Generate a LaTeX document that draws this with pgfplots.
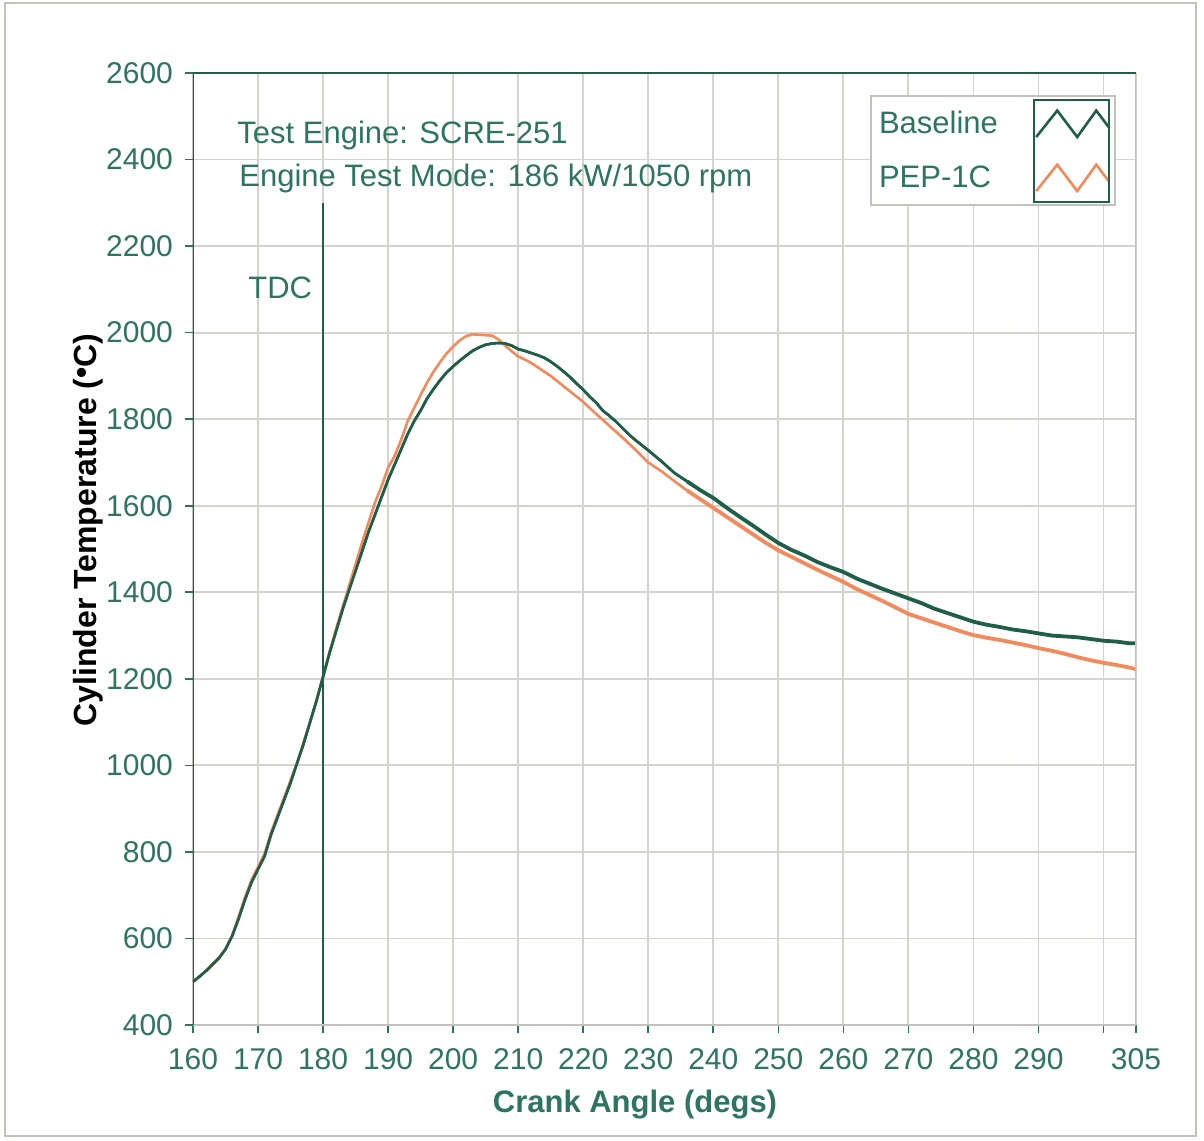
\documentclass[border=0pt]{standalone}
\usepackage{pgfplots}
\pgfplotsset{compat=1.18}
\usepackage{pgfplotstable}
\usepackage{fontspec}
\setmainfont{Liberation Sans}
\definecolor{txtgreen}{HTML}{2E7561}
\definecolor{basegreen}{HTML}{1F5E48}
\definecolor{peporange}{HTML}{F28A5C}
\definecolor{gridgray}{HTML}{D6D2CE}
\definecolor{framegray}{HTML}{C4C0BC}

\pgfplotstableread{
x T
160 500
161 512
162 525
163 540
164 555
165 575
166 605
167 645
168 690
169 730
170 760
171 790
172 840
173 880
174 920
175 960
176 1005
177 1050
178 1100
179 1150
180 1205
181 1260
182 1310
183 1360
184 1405
185 1450
186 1495
187 1540
188 1580
189 1620
190 1660
191 1695
192 1730
193 1765
194 1795
195 1820
196 1848
197 1870
198 1890
199 1908
200 1922
201 1935
202 1947
203 1958
204 1966
205 1972
206 1975
207 1976
208 1975
209 1970
210 1962
211 1958
212 1953
213 1948
214 1942
215 1933
216 1922
217 1910
218 1897
219 1882
220 1868
221 1852
222 1838
223 1820
224 1808
225 1795
226 1780
227 1765
228 1752
229 1740
230 1728
232 1703
234 1676
236 1656
238 1636
240 1618
242 1596
244 1575
246 1555
248 1534
250 1514
252 1498
254 1485
256 1470
258 1458
260 1447
262 1432
264 1420
266 1408
268 1397
270 1386
272 1375
274 1362
276 1352
278 1342
280 1332
282 1325
284 1320
286 1314
288 1310
290 1305
292 1300
294 1298
296 1296
298 1292
300 1288
302 1286
304 1282
305 1282
}\baseline

\pgfplotstableread{
x T
160 500
161 512
162 525
163 540
164 555
165 575
166 605
167 650
168 695
169 735
170 765
171 795
172 845
173 885
174 925
175 965
176 1005
177 1052
178 1100
179 1150
180 1205
181 1262
182 1315
183 1365
184 1415
185 1465
186 1515
187 1562
188 1608
189 1645
190 1688
191 1715
192 1752
193 1795
194 1826
195 1856
196 1885
197 1910
198 1932
199 1952
200 1968
201 1982
202 1992
203 1996
204 1995
205 1994
206 1993
207 1984
208 1970
209 1957
210 1945
211 1938
212 1930
213 1920
214 1910
215 1900
216 1888
217 1876
218 1864
219 1852
220 1840
222 1812
224 1785
226 1758
228 1730
230 1700
232 1680
234 1657
236 1635
238 1615
240 1595
242 1575
244 1555
246 1535
248 1515
250 1497
252 1482
254 1467
256 1452
258 1438
260 1424
262 1408
264 1394
266 1380
268 1365
270 1350
272 1340
274 1330
276 1320
278 1310
280 1301
282 1295
284 1290
286 1284
288 1278
290 1271
292 1265
294 1258
296 1250
298 1243
300 1237
302 1232
304 1226
305 1222
}\pep

\begin{document}
\begin{tikzpicture}
\useasboundingbox (-96.5pt,-57.5pt) rectangle (505.5pt,512.5pt);
\draw[framegray, line width=1pt] (-94pt,-55.5pt) rectangle (501.5pt,511pt);
\begin{axis}[
  at={(0pt,0pt)}, anchor=south west,
  scale only axis, width=471.5pt, height=476pt,
  xmin=160, xmax=305, ymin=400, ymax=2600,
  axis line style={draw=none},
  xtick pos=bottom, ytick pos=left,
  xtick={160,170,180,190,200,210,220,230,240,250,260,270,280,290,300,305},
  xticklabels={160,170,180,190,200,210,220,230,240,250,260,270,280,290,,305},
  ytick={400,600,800,1000,1200,1400,1600,1800,2000,2200,2400,2600},
  grid=major, grid style={gridgray, line width=0.9pt},
  tick align=outside, major tick length=4pt,
  tick style={txtgreen, line width=0.8pt},
  /pgf/number format/assume math mode=true,
  /pgf/number format/1000 sep={},
  ticklabel style={font=\fontsize{15}{18}\selectfont, text=txtgreen},
  xticklabel style={yshift=-4pt},
  yticklabel style={xshift=-2.5pt},
  xlabel={Crank Angle (degs)},
  xlabel style={at={(axis description cs:0.4687,-0.084)}, anchor=center,
    font=\bfseries\fontsize{15.5}{18}\selectfont, text=txtgreen},
  ylabel={Cylinder Temperature ({\raisebox{0.12em}{•}}C)},
  ylabel style={at={(axis description cs:-0.111,0.52)}, anchor=center,
    font=\bfseries\fontsize{16}{19}\selectfont, text=black},
  legend plot pos=right,
  legend cell align=left,
  legend style={at={(axis cs:264.1,2549)}, anchor=north west,
    draw=framegray, line width=1pt, fill=white,
    font=\fontsize{15.5}{18}\selectfont, text=txtgreen,
    inner xsep=2pt, inner ysep=5.5pt, row sep=10.5pt, /tikz/column sep=16.5pt},
  legend image code/.code={\draw[#1] (0pt,-6.6pt) -- (10.5pt,6.6pt) -- (20.5pt,-6.6pt) -- (30pt,6.6pt) -- (36.5pt,-2pt);},
]
\addplot[basegreen, line width=1.3pt, restrict x to domain=160:236] table[x=x,y=T] {\baseline};
\addlegendentry{Baseline}
\addplot[peporange, line width=1.3pt, restrict x to domain=160:236] table[x=x,y=T] {\pep};
\addlegendentry{PEP-1C}
\addplot[peporange, line width=1.9pt, forget plot, restrict x to domain=236:305] table[x=x,y=T] {\pep};
\addplot[basegreen, line width=1.3pt, forget plot, restrict x to domain=160:236] table[x=x,y=T] {\baseline};
\addplot[basegreen, line width=1.9pt, forget plot, restrict x to domain=236:305] table[x=x,y=T] {\baseline};
\addplot[basegreen, line width=1pt, forget plot] coordinates {(180,400) (180,2300)};
\draw[framegray, line width=1.3pt] (rel axis cs:0,0) -- (rel axis cs:1,0) -- (rel axis cs:1,1);
\draw[basegreen, line width=1pt] (rel axis cs:0,0) -- (rel axis cs:0,1) -- (rel axis cs:1,1);
\node[anchor=base west, inner sep=0, text=txtgreen, font=\fontsize{15.5}{18}\selectfont] at (axis cs:166.77,2436) {Test Engine: SCRE-251};
\node[anchor=base west, inner sep=0, text=txtgreen, font=\fontsize{15.5}{18}\selectfont] at (axis cs:167.07,2337) {Engine Test Mode: 186 kW/1050 rpm};
\node[anchor=base west, inner sep=0, text=txtgreen, font=\fontsize{15.5}{18}\selectfont] at (axis cs:168.46,2080) {TDC};
\coordinate (lbA) at (axis cs:289.3,2537.7);
\coordinate (lbB) at (axis cs:300.9,2302);
\end{axis}
\draw[basegreen, line width=1pt] (lbA) rectangle (lbB);
\end{tikzpicture}
\end{document}
